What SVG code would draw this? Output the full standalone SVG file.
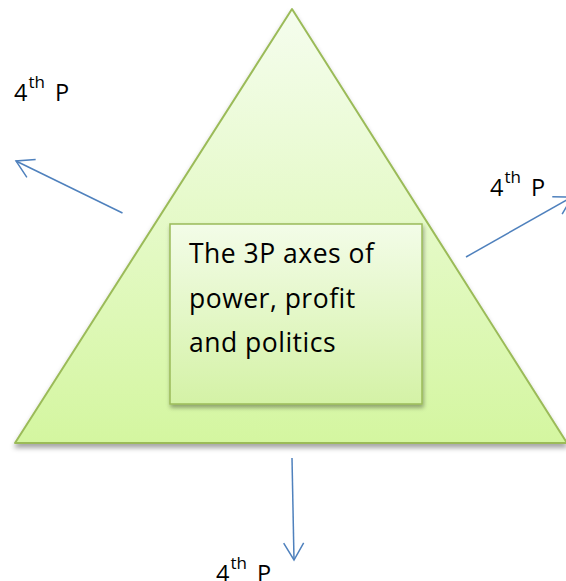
<svg xmlns="http://www.w3.org/2000/svg" width="566" height="581" viewBox="0 0 566 581">
<style>
.lbl{font-family:"Open Sans","Liberation Sans",sans-serif;font-size:23.5px;fill:#000}
.sup{font-size:17px}
.main{font-family:"Open Sans","Liberation Sans",sans-serif;font-size:26.5px;letter-spacing:0.5px;fill:#000}
.conn{stroke:#4f81bd;stroke-width:1.5;fill:none}
</style>
<defs>
<linearGradient id="gTri" x1="0" y1="0" x2="0" y2="1">
<stop offset="0" stop-color="#f5fdee"/>
<stop offset="1" stop-color="#d4f6a0"/>
</linearGradient>
<linearGradient id="gBox" x1="0" y1="0" x2="0" y2="1">
<stop offset="0" stop-color="#f3fce8"/>
<stop offset="1" stop-color="#d4f2a6"/>
</linearGradient>
<filter id="sh" x="-10%" y="-10%" width="120%" height="125%">
<feDropShadow dx="0" dy="4" stdDeviation="2.5" flood-color="#000" flood-opacity="0.35"/>
</filter>
<filter id="sh2" x="-10%" y="-10%" width="125%" height="125%">
<feDropShadow dx="1" dy="3" stdDeviation="2" flood-color="#000" flood-opacity="0.35"/>
</filter>
<marker id="arr" markerUnits="userSpaceOnUse" viewBox="-20 -12 22 24" markerWidth="22" markerHeight="24" refX="0" refY="0" orient="auto" overflow="visible">
<path d="M-17,-10 L0,0 L-17,10" fill="none" stroke="#4f81bd" stroke-width="1.5"/>
</marker>
</defs>
<g id="triangle">
<polygon points="292,9 567,443 15,443" fill="url(#gTri)" stroke="#9bbb59" stroke-width="2" stroke-linejoin="round" filter="url(#sh)"/>
</g>
<g id="center-box">
<rect x="170" y="224" width="252" height="180" fill="url(#gBox)" stroke="#9bbb59" stroke-width="1.5" filter="url(#sh2)"/>
<text class="main" x="189" y="263">The 3P axes of</text>
<text class="main" x="189" y="308">power, profit</text>
<text class="main" x="189" y="352">and politics</text>
</g>
<g id="connectors">
<line class="conn" x1="122.5" y1="213" x2="16" y2="161" marker-end="url(#arr)"/>
<line class="conn" x1="466" y1="257" x2="572" y2="197" marker-end="url(#arr)"/>
<line class="conn" x1="292" y1="458" x2="294" y2="560" marker-end="url(#arr)"/>
</g>
<g id="label-left">
<text class="lbl" x="14" y="101">4<tspan class="sup" dx="1" dy="-13">th</tspan><tspan dx="4" dy="13"> P</tspan></text>
</g>
<g id="label-right">
<text class="lbl" x="490" y="196">4<tspan class="sup" dx="1" dy="-13">th</tspan><tspan dx="4" dy="13"> P</tspan></text>
</g>
<g id="label-bottom">
<text class="lbl" x="216" y="582">4<tspan class="sup" dx="1" dy="-13">th</tspan><tspan dx="4" dy="13"> P</tspan></text>
</g>
</svg>
